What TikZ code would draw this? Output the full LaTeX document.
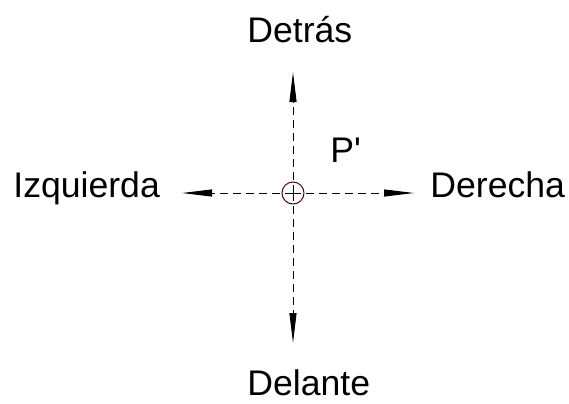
\documentclass[tikz,border=0pt]{standalone}
\usepackage{fontspec}
\setmainfont{Liberation Sans}[Ligatures=TeXOff]
\usetikzlibrary{arrows.meta}
\definecolor{pointred}{RGB}{80,5,5}
\tikzset{
  axisline/.style={line width=0.5pt, dash pattern=on 4pt off 2.5pt,
    -{Triangle[length=15pt,width=3.5pt]}},
  pointmark/.style={circle, draw=pointred, line width=0.5pt, minimum size=11pt, inner sep=0pt},
  dirlabel/.style={anchor=base west, inner sep=0pt, font=\fontsize{17.8}{21}\selectfont},
}
\begin{document}
\begin{tikzpicture}[x=0.5pt,y=-0.5pt]
  \useasboundingbox (0,0) rectangle (569,403);
  % point and the four directions
  \node[pointmark] (P) at (293,193) {};
  \coordinate (back) at (293,72);
  \coordinate (front) at (293,343);
  \coordinate (left) at (182,193);
  \coordinate (right) at (414,193);
  \draw[axisline] (P.center) -- (back);
  \draw[axisline] (P.center) -- (front);
  \draw[axisline] (P.center) -- (left);
  \draw[axisline] (P.center) -- (right);
  % labels
  \node[dirlabel] (detras) at (247,42) {Detrás};
  \node[dirlabel] (delante) at (247,395) {Delante};
  \node[dirlabel] (izq) at (13,197) {Izquierda};
  \node[dirlabel] (der) at (430,197) {Derecha};
  \node[dirlabel] (pname) at (330,162) {P'};
\end{tikzpicture}
\end{document}
